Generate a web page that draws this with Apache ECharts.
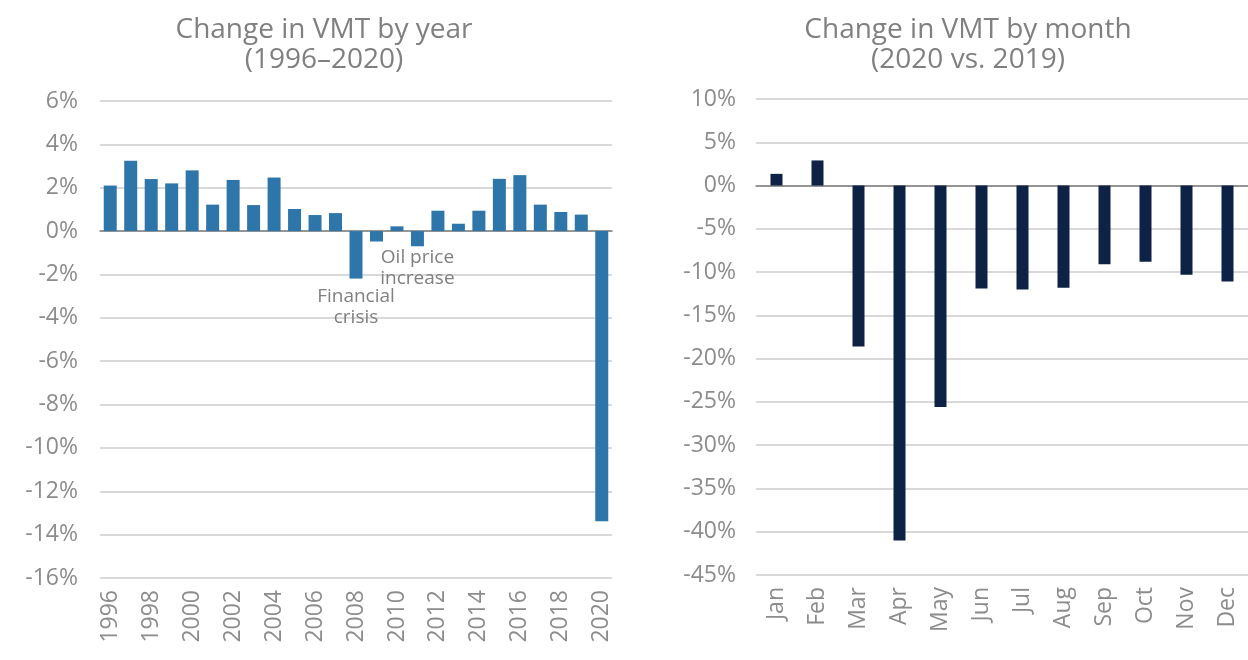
<!DOCTYPE html>
<html>
<head>
<meta charset="utf-8">
<script src="https://cdn.jsdelivr.net/npm/echarts@6/dist/echarts.min.js"></script>
<style>
  html, body { margin: 0; padding: 0; background: #fff; }
  #main { width: 1248px; height: 660px; }
</style>
</head>
<body>
<div id="main"></div>
<script>
// yearly change in VMT, %
const years = ["1996", "1997", "1998", "1999", "2000", "2001", "2002", "2003", "2004", "2005",
  "2006", "2007", "2008", "2009", "2010", "2011", "2012", "2013", "2014", "2015",
  "2016", "2017", "2018", "2019", "2020"];
const yearChange = [2.1, 3.25, 2.4, 2.2, 2.8, 1.22, 2.36, 1.2, 2.47, 1.02,
  0.74, 0.83, -2.19, -0.48, 0.22, -0.7, 0.94, 0.34, 0.94, 2.41,
  2.58, 1.22, 0.88, 0.76, -13.38];

// monthly change 2020 vs 2019, %
const months = ["Jan", "Feb", "Mar", "Apr", "May", "Jun", "Jul", "Aug", "Sep", "Oct", "Nov", "Dec"];
const monthChange = [1.35, 2.9, -18.6, -41.0, -25.6, -11.9, -12.0, -11.8, -9.1, -8.8, -10.3, -11.1];

// annotations keyed by year
const notes = { "2008": "Financial\ncrisis", "2011": "Oil price\nincrease" };

const font = "Open Sans";
const grey = "#808080";

const chart = echarts.init(document.getElementById("main"));

const yearData = years.map((y, i) => {
  const item = { value: yearChange[i] };
  if (notes[y]) {
    item.label = {
      show: true,
      position: "bottom",
      distance: y === "2008" ? 8 : 1,
      formatter: notes[y],
      color: grey,
      fontFamily: font,
      fontSize: 19,
      lineHeight: 21
    };
  }
  return item;
});

const axisText = { color: "#8c8c8c", fontFamily: font, fontSize: 23 };

chart.setOption({
  animation: false,
  title: [
    {
      text: "Change in VMT by year\n(1996–2020)",
      left: 319, top: 10, textAlign: "center",
      textStyle: { color: grey, fontFamily: font, fontWeight: "normal", fontSize: 28, lineHeight: 30 }
    },
    {
      text: "Change in VMT by month\n(2020 vs. 2019)",
      left: 963, top: 10, textAlign: "center",
      textStyle: { color: grey, fontFamily: font, fontWeight: "normal", fontSize: 28, lineHeight: 30 }
    }
  ],
  grid: [
    { left: 100, right: 636, top: 101, bottom: 82 },
    { left: 756, right: -11, top: 99, bottom: 85 }
  ],
  xAxis: [
    {
      type: "category", gridIndex: 0, data: years,
      axisLine: { lineStyle: { color: "#7f7f7f", width: 1.5 } },
      axisTick: { show: false },
      axisLabel: Object.assign({ rotate: 90, interval: 1, margin: 12 }, axisText)
    },
    {
      type: "category", gridIndex: 1, data: months,
      axisLine: { lineStyle: { color: "#7f7f7f", width: 1.5 } },
      axisTick: { show: false },
      axisLabel: Object.assign({ rotate: 90, interval: 0, margin: 12 }, axisText)
    }
  ],
  yAxis: [
    {
      type: "value", gridIndex: 0, min: -16, max: 6, interval: 2,
      axisLabel: Object.assign({ formatter: "{value}%", margin: 22 }, axisText),
      splitLine: { lineStyle: { color: "#d9d9d9", width: 2 } }
    },
    {
      type: "value", gridIndex: 1, min: -45, max: 10, interval: 5,
      axisLabel: Object.assign({ formatter: "{value}%", margin: 20 }, axisText),
      splitLine: { lineStyle: { color: "#d9d9d9", width: 2 } }
    }
  ],
  series: [
    {
      name: "By year", type: "bar", xAxisIndex: 0, yAxisIndex: 0,
      data: yearData, barWidth: 13,
      itemStyle: { color: "#2e76aa" }
    },
    {
      name: "By month", type: "bar", xAxisIndex: 1, yAxisIndex: 1,
      data: monthChange, barWidth: 12,
      itemStyle: { color: "#0e2245" }
    }
  ]
});
</script>
</body>
</html>
